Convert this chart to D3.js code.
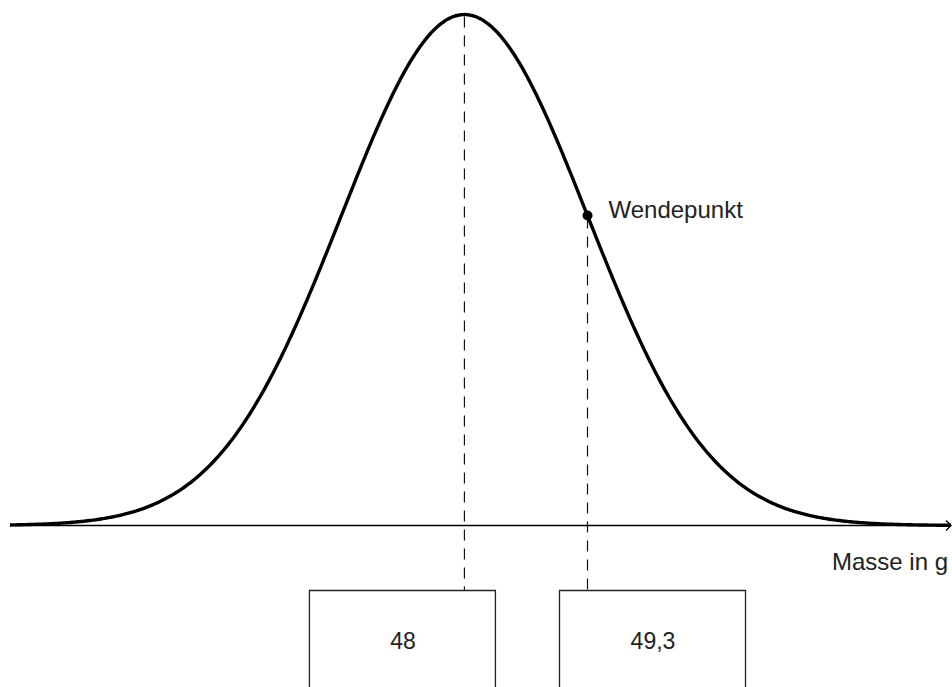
<!DOCTYPE html>
<html>
<head>
<meta charset="utf-8">
<script src="https://cdn.jsdelivr.net/npm/d3@7"></script>
<style>
  body { margin: 0; background: #fff; }
  text { font-family: "Liberation Sans", Arial, sans-serif; fill: #222; }
</style>
</head>
<body>
<svg id="chart" width="952" height="687"></svg>
<script>
// distribution parameters (Masse in g)
const mean = 48;
const sigma = 1.3;
const xDomain = [43.2, 53.15];
const boxLabels = ["48", "49,3"];
const axisLabel = "Masse in g";
const pointLabel = "Wendepunkt";

const svg = d3.select("#chart");

let x = d3.scaleLinear().domain(xDomain).range([10, 952]);
let density = v => Math.exp(-0.5 * ((v - mean) / sigma) ** 2) / (sigma * Math.sqrt(2 * Math.PI));
let peak = density(mean);
let y = d3.scaleLinear().domain([0, peak]).range([525.5, 14.5]);

// dashed guides: mean and inflection point
let guides = [mean, mean + sigma];
svg.selectAll("line.guide").data(guides).enter().append("line")
    .attr("class", "guide")
    .attr("x1", d => x(d)).attr("x2", d => x(d))
    .attr("y1", d => y(density(d)) + 2).attr("y2", 590)
    .attr("stroke", "#111").attr("stroke-width", 1.2)
    .attr("stroke-dasharray", "11,8");

// x axis with small open arrowhead
svg.append("line")
    .attr("x1", 10).attr("x2", 951).attr("y1", 525.5).attr("y2", 525.5)
    .attr("stroke", "#000").attr("stroke-width", 1.6);
svg.append("path")
    .attr("d", "M946,520.5 L951,525.5 L946,530.5")
    .attr("fill", "none").attr("stroke", "#000").attr("stroke-width", 1.3);

svg.append("text")
    .attr("x", 832).attr("y", 570)
    .attr("font-size", 24)
    .text(axisLabel);

// the bell curve
let samples = d3.range(xDomain[0], xDomain[1] + 0.001, 0.02);
let line = d3.line().x(d => x(d)).y(d => y(density(d))).curve(d3.curveBasis);
svg.append("path")
    .datum(samples)
    .attr("d", line)
    .attr("fill", "none")
    .attr("stroke", "#000")
    .attr("stroke-width", 3.4);

// inflection point
svg.append("circle")
    .attr("cx", x(mean + sigma)).attr("cy", y(density(mean + sigma)))
    .attr("r", 5).attr("fill", "#000");
svg.append("text")
    .attr("x", x(mean + sigma) + 21).attr("y", y(density(mean + sigma)) + 2)
    .attr("font-size", 24)
    .text(pointLabel);

// answer boxes below the axis
let boxes = [
  { left: x(mean) - 155, label: boxLabels[0] },
  { left: x(mean + sigma) - 28, label: boxLabels[1] }
];
let g = svg.selectAll("g.box").data(boxes).enter().append("g").attr("class", "box");
g.append("path")
    .attr("d", d => `M${d.left},700 V590.5 H${d.left + 186} V700`)
    .attr("fill", "none").attr("stroke", "#222").attr("stroke-width", 1.3);
g.append("text")
    .attr("x", d => d.left + 93.5).attr("y", 649)
    .attr("text-anchor", "middle")
    .attr("font-size", 23)
    .text(d => d.label);
</script>
</body>
</html>
